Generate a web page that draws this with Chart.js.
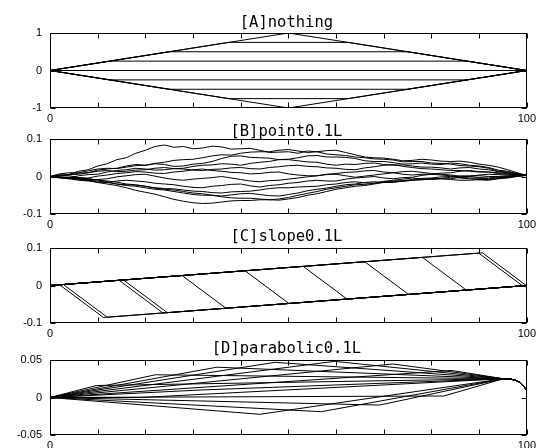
<!DOCTYPE html>
<html>
<head>
<meta charset="utf-8">
<script src="https://cdn.jsdelivr.net/npm/chart.js"></script>
<style>
  html, body { margin: 0; padding: 0; background: #fff; overflow: hidden; }
  #wrap { position: relative; width: 540px; height: 448px; }
  canvas { position: absolute; left: 0; }
</style>
</head>
<body>
<div id="wrap">
  <canvas id="cA" width="540" height="125" style="top:3px"></canvas>
  <canvas id="cB" width="540" height="125" style="top:109px"></canvas>
  <canvas id="cC" width="540" height="125" style="top:218px"></canvas>
  <canvas id="cD" width="540" height="125" style="top:330px"></canvas>
</div>
<script>
// ====== TICKS / TITLES ======
const xTicks = [0, 10, 20, 30, 40, 50, 60, 70, 80, 90, 100];
const xLabels = [0, 100];
const yTicksA = [-1, 0, 1];
const yTicksB = [-0.1, 0, 0.1];
const yTicksC = [-0.1, 0, 0.1];
const yTicksD = [-0.05, 0, 0.05];
const titles = ["[A]nothing", "[B]point0.1L", "[C]slope0.1L", "[D]parabolic0.1L"];

// ====== [A] nothing ======
const nothingX = [
  [0, 50, 100], [0, 37.5, 62.5, 100], [0, 25, 75, 100], [0, 12.5, 87.5, 100], [0, 100],
  [0, 12.5, 87.5, 100], [0, 25, 75, 100], [0, 37.5, 62.5, 100], [0, 50, 100]
];
const nothingY = [
  [0, 1, 0], [0, 0.75, 0.75, 0], [0, 0.5, 0.5, 0], [0, 0.25, 0.25, 0], [0, 0],
  [0, -0.25, -0.25, 0], [0, -0.5, -0.5, 0], [0, -0.75, -0.75, 0], [0, -1, 0]
];

// ====== [B] point0.1L ======
const pointX = [0, 2, 4, 6, 8, 10, 12, 14, 16, 18, 20, 22, 24, 26, 28, 30, 32, 34, 36, 38, 40, 42, 44, 46, 48, 50,
  52, 54, 56, 58, 60, 62, 64, 66, 68, 70, 72, 74, 76, 78, 80, 82, 84, 86, 88, 90, 92, 94, 96, 98, 100];
const pointY = [
  [0, .001, .006, .014, .018, .028, .034, .045, .05, .062, .07, .08, .084, .078, .08, .074, .076, .081, .079, .073, .074, .075, .07, .064, .065, .066,
   .062, .068, .066, .06, .058, .056, .052, .05, .047, .046, .044, .039, .04, .04, .036, .035, .033, .029, .028, .026, .022, .014, .012, .008, .003],
  [0, .004, .004, .009, .01, .017, .02, .022, .028, .032, .03, .035, .038, .043, .045, .046, .05, .055, .058, .057, .062, .065, .066, .066, .07, .072,
   .068, .064, .066, .069, .07, .064, .058, .052, .05, .049, .046, .042, .043, .046, .044, .041, .04, .041, .038, .033, .03, .025, .018, .01, .003],
  [0, .007, .01, .01, .015, .02, .022, .021, .025, .029, .03, .034, .032, .027, .028, .033, .035, .04, .048, .054, .055, .051, .05, .049, .045, .046,
   .05, .055, .056, .052, .052, .051, .048, .042, .04, .04, .037, .033, .034, .036, .033, .032, .036, .034, .03, .028, .024, .017, .014, .007, .003],
  [0, -.002, -.004, .002, .005, .006, .012, .016, .018, .022, .02, .017, .018, .021, .022, .027, .03, .031, .034, .033, .03, .035, .038, .04, .045, .045,
   .042, .039, .038, .033, .03, .033, .032, .035, .036, .032, .03, .031, .028, .025, .025, .023, .02, .023, .024, .02, .018, .013, .01, .007, .003],
  [0, .004, .005, .006, .01, .014, .016, .013, .014, .017, .018, .022, .024, .021, .02, .017, .016, .019, .02, .023, .024, .021, .02, .024, .026, .029,
   .03, .027, .026, .023, .022, .019, .018, .023, .026, .03, .032, .027, .024, .021, .02, .018, .016, .016, .014, .012, .012, .01, .008, .006, .003],
  [0, -.004, -.006, -.004, -.004, .001, .004, .008, .01, .013, .012, .009, .008, .012, .014, .018, .02, .016, .014, .011, .01, .007, .008, .011, .012, .007,
   .004, .002, .002, .006, .008, .011, .012, .015, .016, .012, .01, .006, .004, .006, .006, .009, .01, .014, .016, .013, .012, .008, .006, .005, .003],
  [0, -.002, -.003, -.006, -.008, -.008, -.006, -.001, .002, .005, .006, .001, -.004, -.008, -.01, -.007, -.005, -.003, 0, -.004, -.008, -.012, -.014, -.011, -.01, -.007,
   -.004, -.001, .002, .005, .006, .002, -.002, .001, .004, .007, .01, .013, .014, .011, .008, .006, .004, .001, 0, .004, .006, .005, .004, .004, .003],
  [0, -.003, -.006, -.01, -.012, -.015, -.016, -.012, -.01, -.012, -.014, -.018, -.02, -.022, -.026, -.029, -.03, -.026, -.024, -.021, -.02, -.025, -.028, -.024, -.022, -.018,
   -.016, -.012, -.01, -.012, -.012, -.007, -.004, -.002, 0, -.004, -.006, -.003, -.002, .003, .006, .004, .002, -.002, -.004, -.005, -.006, -.003, -.002, .001, .003],
  [0, -.001, -.004, -.008, -.01, -.012, -.016, -.02, -.022, -.023, -.026, -.03, -.032, -.033, -.036, -.039, -.04, -.043, -.044, -.041, -.04, -.039, -.036, -.032, -.03, -.03,
   -.028, -.027, -.026, -.022, -.02, -.016, -.014, -.017, -.018, -.013, -.01, -.007, -.004, -.007, -.008, -.006, -.006, -.002, 0, -.003, -.004, -.001, 0, .002, .003],
  [0, .002, .002, -.003, -.006, -.009, -.014, -.02, -.024, -.026, -.03, -.034, -.036, -.04, -.044, -.048, -.05, -.05, -.052, -.049, -.046, -.045, -.048, -.051, -.052, -.048,
   -.044, -.038, -.034, -.031, -.026, -.022, -.02, -.016, -.014, -.016, -.016, -.012, -.01, -.009, -.006, -.006, -.008, -.01, -.01, -.008, -.008, -.005, -.002, .001, .003],
  [0, -.003, -.004, -.006, -.01, -.016, -.02, -.024, -.03, -.037, -.042, -.047, -.054, -.061, -.066, -.07, -.072, -.071, -.068, -.065, -.064, -.064, -.062, -.062, -.06, -.056,
   -.05, -.045, -.04, -.034, -.03, -.026, -.022, -.021, -.018, -.014, -.012, -.011, -.008, -.005, -.004, -.001, 0, -.004, -.006, -.009, -.01, -.006, -.004, 0, .003],
  [0, -.002, -.002, -.003, -.006, -.01, -.012, -.015, -.02, -.022, -.026, -.031, -.034, -.036, -.04, -.044, -.046, -.05, -.054, -.057, -.058, -.058, -.06, -.062, -.063, -.06,
   -.056, -.05, -.046, -.04, -.034, -.03, -.026, -.024, -.02, -.016, -.014, -.013, -.01, -.007, -.006, -.005, -.002, .001, .002, .002, 0, 0, .002, .003, .003]
];

// ====== [C] slope0.1L ======
const slopeStartX = [2.0, 2.8, 14.5, 15.4, 27.7, 40.9, 53.1, 66.0, 78.1, 89.9, 90.7];
const slopeStartY = [0.0019, 0.0027, 0.0139, 0.0148, 0.0266, 0.0393, 0.051, 0.0634, 0.075, 0.0863, 0.0871];
const slopeEndX = [11.2, 12.0, 23.7, 24.6, 36.9, 50.1, 62.3, 75.2, 87.3, 99.1, 99.9];
const slopeEndY = [-0.0852, -0.0845, -0.0733, -0.0724, -0.0606, -0.0479, -0.0362, -0.0238, -0.0122, -0.0009, -0.0001];

// ====== [D] parabolic0.1L ======
const parabolicPeakX = [9.7, 22.1, 35.0, 47.2, 59.7, 71.9, 84.3, 44.0, 56.9, 69.1, 82.6, 31.5, 19.0];
const parabolicPeakY = [0.016, 0.0303, 0.0404, 0.0469, 0.0482, 0.0447, 0.036, -0.0224, -0.0189, -0.0101, 0.002, 0.010, 0.0];
const parabolicTailX = [95.1, 96.5, 97.5, 98.5, 99.3, 100];
const parabolicTailY = [0.025, 0.0246, 0.0232, 0.0205, 0.0155, 0.0092];

// ====== HELPERS ======
const tickFont = { family: "'Liberation Sans', Arial, sans-serif", size: 11 };

function lineSet(xs, ys) {
  return {
    data: xs.map((x, i) => ({ x: x, y: ys[i] })),
    borderColor: "#000",
    borderWidth: 1,
    pointRadius: 0,
    fill: false,
    tension: 0
  };
}

// box, inward ticks and title (drawn like the matlab plot)
const boxPlugin = {
  id: "box",
  afterDraw(chart, args, opts) {
    const ctx = chart.ctx;
    const a = chart.chartArea;
    const sx = chart.scales.x, sy = chart.scales.y;
    const L = Math.round(a.left) + 0.5, R = Math.round(a.right) - 0.5;
    const T = Math.round(a.top) + 0.5, B = Math.round(a.bottom) - 0.5;
    ctx.save();
    ctx.strokeStyle = "#000";
    ctx.lineWidth = 1;
    ctx.strokeRect(L, T, R - L, B - T);
    ctx.beginPath();
    sx.ticks.forEach(t => {
      const px = Math.round(sx.getPixelForValue(t.value)) + 0.5;
      ctx.moveTo(px, B); ctx.lineTo(px, B - 5);
      ctx.moveTo(px, T); ctx.lineTo(px, T + 5);
    });
    sy.ticks.forEach(t => {
      const py = Math.round(sy.getPixelForValue(t.value)) + 0.5;
      ctx.moveTo(L, py); ctx.lineTo(L + 5, py);
      ctx.moveTo(R, py); ctx.lineTo(R - 5, py);
    });
    ctx.stroke();
    ctx.fillStyle = "#000";
    ctx.font = "15.5px 'DejaVu Sans Mono', monospace";
    ctx.textAlign = "center";
    ctx.textBaseline = "middle";
    ctx.fillText(opts.text, (a.left + a.right) / 2 - 2, a.top - opts.offset);
    ctx.restore();
  }
};

function makePanel(id, datasets, yTicks, title, titleOffset) {
  new Chart(document.getElementById(id), {
    type: "line",
    data: { datasets: datasets },
    plugins: [boxPlugin],
    options: {
      responsive: false,
      animation: false,
      events: [],
      layout: { padding: { top: 30, right: 10, left: 0, bottom: 0 } },
      plugins: {
        legend: { display: false },
        tooltip: { enabled: false },
        box: { text: title, offset: titleOffset }
      },
      scales: {
        x: {
          type: "linear",
          min: 0,
          max: 100,
          afterBuildTicks: s => { s.ticks = xTicks.map(v => ({ value: v })); },
          afterFit: s => { s.height = 20; },
          grid: { display: false, drawTicks: false },
          border: { display: false },
          ticks: {
            autoSkip: false, maxRotation: 0, padding: 4, color: "#000", font: tickFont,
            callback: v => (xLabels.includes(v) ? String(v) : "")
          }
        },
        y: {
          min: yTicks[0],
          max: yTicks[yTicks.length - 1],
          afterBuildTicks: s => { s.ticks = yTicks.map(v => ({ value: v })); },
          afterFit: s => { s.width = 50; },
          grid: { display: false, drawTicks: false },
          border: { display: false },
          ticks: { padding: 8, color: "#000", font: tickFont, callback: v => String(v) }
        }
      }
    }
  });
}

// ====== BUILD ======
makePanel("cA", nothingX.map((xs, i) => lineSet(xs, nothingY[i])), yTicksA, titles[0], 10);
makePanel("cB", pointY.map(ys => lineSet(pointX, ys)), yTicksB, titles[1], 7.5);
makePanel("cC", slopeStartX.map((sx, i) =>
  lineSet([0, sx, slopeEndX[i], 100], [0, slopeStartY[i], slopeEndY[i], 0])), yTicksC, titles[2], 11);
makePanel("cD", parabolicPeakX.map((px, i) =>
  lineSet([0, px].concat(parabolicTailX), [0, parabolicPeakY[i]].concat(parabolicTailY))), yTicksD, titles[3], 11);
</script>
</body>
</html>
